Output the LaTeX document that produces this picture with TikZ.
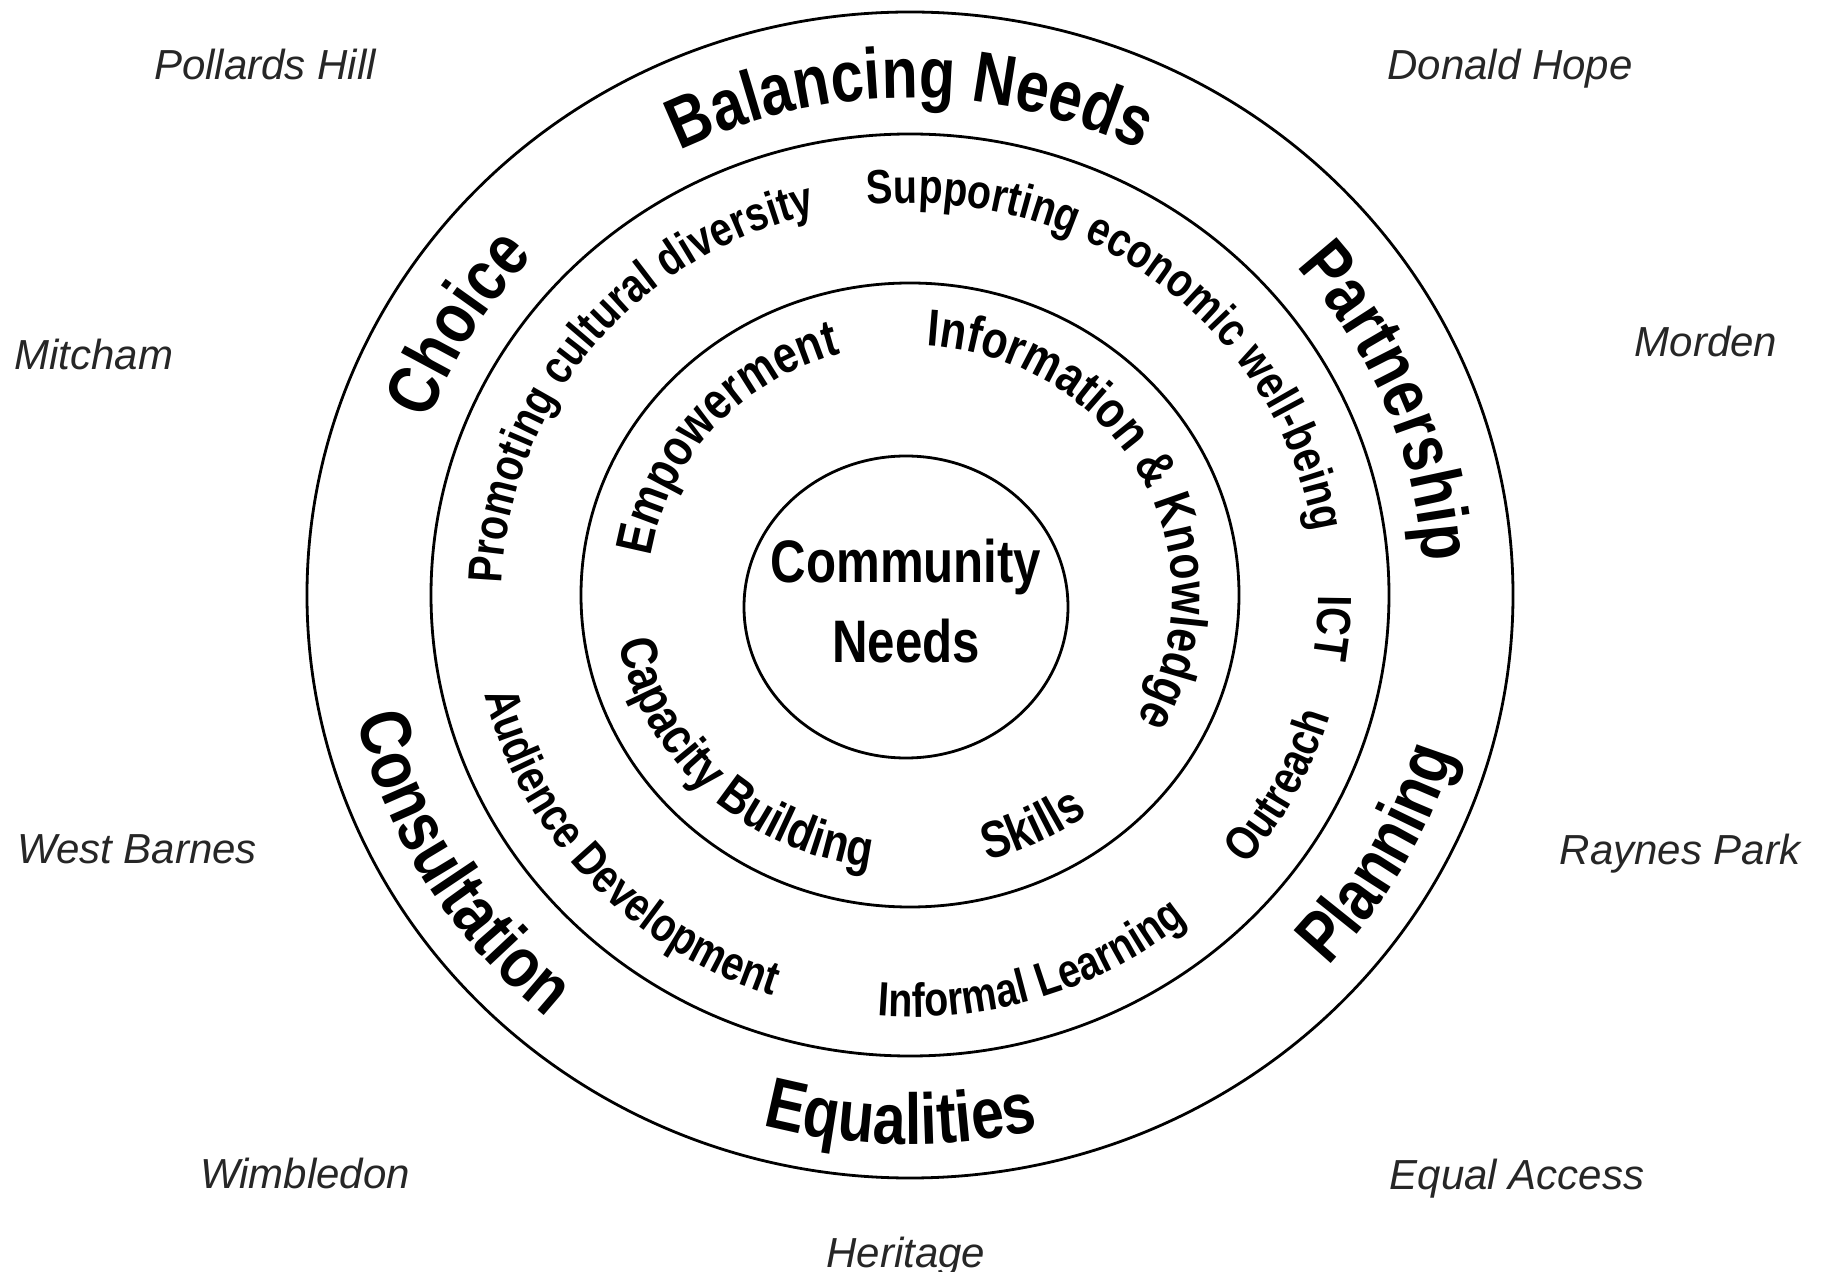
\documentclass[tikz,border=0pt]{standalone}
\usepackage{fontspec}
\usetikzlibrary{shapes.geometric,decorations.text}

\newfontfamily\ringfont{Liberation Sans}[FakeStretch=0.82]
\newfontfamily\placefont{Liberation Sans}
\newcommand\outerfont{\ringfont\bfseries\fontsize{36}{36}\selectfont}
\newcommand\middlefont{\ringfont\bfseries\fontsize{24}{24}\selectfont}
\newcommand\innerfont{\ringfont\bfseries\fontsize{26}{26}\selectfont}

\begin{document}
\begin{tikzpicture}[
    x=0.5pt, y=0.5pt,
    ring/.style={ellipse,draw,line width=1.4pt,inner sep=0pt},
    place/.style={font=\placefont\itshape\fontsize{21}{21}\selectfont,text=black!85,anchor=base},
    arctext/.style={decorate,decoration={text along path,text align=center,text={#1}}},
    outerlow/.style={x radius=514,y radius=497},
    outerhigh/.style={x radius=568,y radius=549},
    midlow/.style={x radius=408,y radius=392},
    midhigh/.style={x radius=438,y radius=422},
    innerlow/.style={x radius=262,y radius=250},
    innerhigh/.style={x radius=295,y radius=275}
  ]
  \useasboundingbox (-910,-677) rectangle (913,595);

  % rings
  \node(outer) [ring,minimum width=603pt,minimum height=583pt] at (0,0) {};
  \node(middle) [ring,minimum width=479pt,minimum height=461pt] at (0,0) {};
  \node(inner) [ring,minimum width=329pt,minimum height=312pt] at (0,0) {};
  \node(core) [ring,minimum width=162pt,minimum height=151pt] at (-4,-12) {};
  \node(corelabel) [align=center,font=\ringfont\bfseries\fontsize{30}{40}\selectfont]
    at (core.center) [yshift=3pt] {Community\\Needs};

  % outer ring
  \path [arctext={|\outerfont|Balancing Needs}] (160:514 and 497) arc [start angle=160,end angle=20,outerlow];
  \path [arctext={|\outerfont|Choice}] (219:514 and 497) arc [start angle=219,end angle=79,outerlow];
  \path [arctext={|\outerfont|Partnership}] (92:514 and 497) arc [start angle=92,end angle=-48,outerlow];
  \path [arctext={|\outerfont|Planning}] (-99:568 and 549) arc [start angle=-99,end angle=41,outerhigh];
  \path [arctext={|\outerfont|Consultation}] (141:568 and 549) arc [start angle=141,end angle=281,outerhigh];
  \path [arctext={|\outerfont|Equalities}] (199:568 and 549) arc [start angle=199,end angle=339,outerhigh];

  % middle ring
  \path [arctext={|\middlefont|Promoting cultural diversity}] (221:408 and 392) arc [start angle=221,end angle=62,midlow];
  \path [arctext={|\middlefont|Supporting economic well-being}] (132:408 and 392) arc [start angle=132,end angle=-28,midlow];
  \path [arctext={|\middlefont|ICT}] (65:408 and 392) arc [start angle=65,end angle=-74,midlow];
  \path [arctext={|\middlefont|Outreach}] (-97:438 and 422) arc [start angle=-97,end angle=42,midhigh];
  \path [arctext={|\middlefont|Informal Learning}] (-142:438 and 422) arc [start angle=-142,end angle=-2,midhigh];
  \path [arctext={|\middlefont|Audience Development}] (152:438 and 422) arc [start angle=152,end angle=292,midhigh];

  % inner ring
  \path [arctext={|\innerfont|Empowerment}] (209:262 and 250) arc [start angle=209,end angle=69,innerlow];
  \path [arctext={|\innerfont|Information {\&} Knowledge}] (108:262 and 250) arc [start angle=108,end angle=-52,innerlow];
  \path [arctext={|\innerfont|Capacity Building}] (155:295 and 275) arc [start angle=155,end angle=295,innerhigh];
  \path [arctext={|\innerfont|Skills}] (-132:295 and 275) arc [start angle=-132,end angle=7,innerhigh];

  % places
  \node(pollards) [place] at (-645,515) {Pollards Hill};
  \node(donald) [place] at (600,515) {Donald Hope};
  \node(mitcham) [place] at (-816,225) {Mitcham};
  \node(morden) [place] at (796,238) {Morden};
  \node(westbarnes) [place] at (-773,-268) {West Barnes};
  \node(raynes) [place] at (770,-269) {Raynes Park};
  \node(wimbledon) [place] at (-605,-593) {Wimbledon};
  \node(equal) [place] at (607,-594) {Equal Access};
  \node(heritage) [place] at (-4,-672) {Heritage};
\end{tikzpicture}
\end{document}
